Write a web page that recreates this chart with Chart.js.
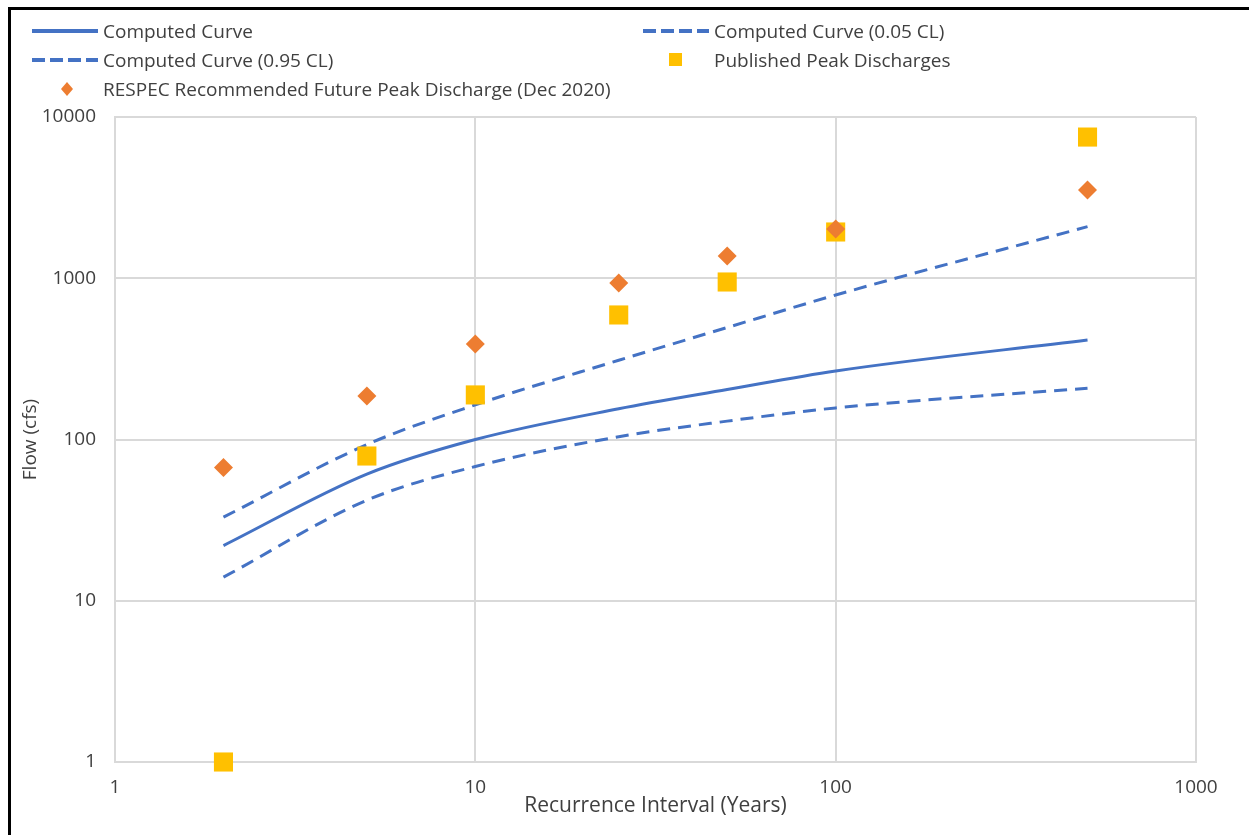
<!DOCTYPE html>
<html>
<head>
<meta charset="utf-8">
<title>Recurrence Interval vs Flow</title>
<script src="https://cdn.jsdelivr.net/npm/chart.js@4.4.1/dist/chart.umd.min.js"></script>
<style>
  html, body { margin: 0; padding: 0; background: #fff; }
  body {
    width: 1249px; height: 835px; position: relative; overflow: hidden;
    font-family: "Open Sans", sans-serif;
  }
  #frame {
    position: absolute; left: 8px; top: 7px; width: 1300px; height: 900px;
    border-left: 3px solid #000; border-top: 3px solid #000;
  }
  #chartWrap { position: absolute; left: 0; top: 0; width: 1249px; height: 835px; }
  #legend { position: absolute; left: 0; top: 0; width: 1249px; height: 110px; }
  .item {
    position: absolute; display: flex; align-items: center; height: 24px;
    font-size: 19px; color: #404040; white-space: nowrap;
  }
  .item svg { margin-right: 5px; }
</style>
</head>
<body>
<div id="frame"></div>
<div id="chartWrap"><canvas id="flowChart"></canvas></div>
<div id="legend"></div>

<script>
/* ================= DATA ================= */
const recurrenceYears = [2, 5, 10, 25, 50, 100, 500];
const computedCurve = [22, 61, 100, 155, 204, 266, 414];
const computedCurve05 = [33, 93, 164, 310, 495, 787, 2090];
const computedCurve95 = [14, 42, 68, 104, 130, 157, 208];
const publishedPeak = [1, 79, 189, 592, 948, 1936, 7510];
const respecFuture = [67, 186, 391, 935, 1374, 2022, 3525];

const xTickValues = [1, 10, 100, 1000];
const yTickValues = [1, 10, 100, 1000, 10000];

/* ================= STYLE ================= */
const BLUE = "#4472C4";
const GOLD = "#FFC000";
const ORANGE = "#ED7D31";
const GRID = "#d9d9d9";
const TEXT = "#404040";
const TICK_FONT = { family: "'Open Sans', sans-serif", size: 19 };

function toPoints(values) {
  return recurrenceYears.map((yr, i) => ({ x: yr, y: values[i] }));
}

/* ================= DATASETS ================= */
const datasets = [
  {
    label: "RESPEC Recommended Future Peak Discharge (Dec 2020)",
    data: toPoints(respecFuture),
    showLine: false,
    pointStyle: "rectRot",
    pointRadius: 9.5,
    pointBackgroundColor: ORANGE,
    pointBorderColor: ORANGE,
    pointBorderWidth: 0,
    order: 0,
    legendPos: { left: 32, top: 89 },
  },
  {
    label: "Published Peak Discharges",
    data: toPoints(publishedPeak),
    showLine: false,
    pointStyle: "rect",
    pointRadius: 13.5,
    pointBackgroundColor: GOLD,
    pointBorderColor: GOLD,
    pointBorderWidth: 0,
    order: 1,
    legendPos: { left: 643, top: 60 },
  },
  {
    label: "Computed Curve",
    data: toPoints(computedCurve),
    showLine: true,
    borderColor: BLUE,
    borderWidth: 3,
    pointRadius: 0,
    cubicInterpolationMode: "monotone",
    order: 2,
    legendPos: { left: 32, top: 31 },
  },
  {
    label: "Computed Curve (0.05 CL)",
    data: toPoints(computedCurve05),
    showLine: true,
    borderColor: BLUE,
    borderWidth: 3,
    borderDash: [13, 8],
    pointRadius: 0,
    cubicInterpolationMode: "monotone",
    order: 3,
    legendPos: { left: 643, top: 31 },
  },
  {
    label: "Computed Curve (0.95 CL)",
    data: toPoints(computedCurve95),
    showLine: true,
    borderColor: BLUE,
    borderWidth: 3,
    borderDash: [13, 8],
    pointRadius: 0,
    cubicInterpolationMode: "monotone",
    order: 4,
    legendPos: { left: 32, top: 60 },
  },
];

/* ================= LEGEND ================= */
function legendSample(ds) {
  if (ds.pointStyle === "rect") {
    return `<svg width="66" height="22"><rect x="26" y="4" width="13" height="13" fill="${GOLD}"/></svg>`;
  }
  if (ds.pointStyle === "rectRot") {
    return `<svg width="66" height="22"><polygon points="35,4 41,11 35,18 29,11" fill="${ORANGE}"/></svg>`;
  }
  const dash = ds.borderDash ? `stroke-dasharray="13 5"` : "";
  return `<svg width="66" height="22"><line x1="0" y1="11" x2="66" y2="11" stroke="${BLUE}" stroke-width="4" ${dash}/></svg>`;
}

function renderLegend() {
  const legendEl = document.getElementById("legend");
  datasets.forEach((ds) => {
    const div = document.createElement("div");
    div.className = "item";
    div.style.left = ds.legendPos.left + "px";
    div.style.top = ds.legendPos.top - 12 + "px";
    div.innerHTML = legendSample(ds) + `<span>${ds.label}</span>`;
    legendEl.appendChild(div);
  });
}

/* ================= CHART ================= */
function axisTicks(values) {
  return (scale) => {
    scale.ticks = values.map((v) => ({ value: v }));
  };
}

const flowChart = new Chart(document.getElementById("flowChart"), {
  type: "scatter",
  data: { datasets },
  options: {
    responsive: true,
    maintainAspectRatio: false,
    animation: false,
    layout: { padding: { top: 117, right: 53, bottom: 0, left: 0 } },
    plugins: {
      legend: { display: false },
      tooltip: { enabled: false },
    },
    datasets: { scatter: { clip: false } },
    scales: {
      x: {
        type: "logarithmic",
        min: 1,
        max: 1000,
        afterBuildTicks: axisTicks(xTickValues),
        afterFit: (scale) => { scale.height = 73; },
        ticks: {
          callback: (v) => String(v),
          autoSkip: false,
          maxRotation: 0,
          padding: 14,
          color: TEXT,
          font: TICK_FONT,
        },
        grid: { color: GRID, lineWidth: 2, drawTicks: false },
        border: { color: GRID, width: 2 },
        title: {
          display: true,
          text: "Recurrence Interval (Years)",
          color: TEXT,
          font: { family: "'Open Sans', sans-serif", size: 21 },
          padding: { top: 0, bottom: 16 },
        },
      },
      y: {
        type: "logarithmic",
        min: 1,
        max: 10000,
        afterBuildTicks: axisTicks(yTickValues),
        afterFit: (scale) => { scale.width = 115; },
        ticks: {
          callback: (v) => String(v),
          autoSkip: false,
          padding: 19,
          color: TEXT,
          font: TICK_FONT,
        },
        grid: { color: GRID, lineWidth: 2, drawTicks: false },
        border: { color: GRID, width: 2 },
        title: {
          display: true,
          text: "Flow (cfs)",
          color: TEXT,
          font: { family: "'Open Sans', sans-serif", size: 19 },
          padding: { top: 19, bottom: 0 },
        },
      },
    },
  },
});

renderLegend();
</script>
</body>
</html>
